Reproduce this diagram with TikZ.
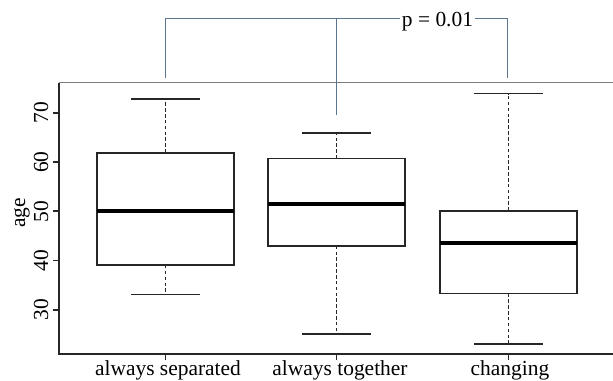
\documentclass[tikz,border=0pt]{standalone}
\usepackage{fontspec}
\setmainfont{Liberation Serif}
\usetikzlibrary{positioning,calc}
\definecolor{bracketblue}{RGB}{92,116,142}
\definecolor{framegray}{RGB}{125,125,125}
\tikzset{
	axline/.style={line width=1.5pt, color=black!85},
	boxline/.style={line width=1.5pt, color=black!85},
	medline/.style={line width=3pt, color=black},
	whisk/.style={line width=1.5pt, dash pattern=on 3pt off 2pt, color=black!85},
	capline/.style={line width=1.5pt, color=black!85},
	bracket/.style={line width=1pt, color=bracketblue},
	ticklabel/.style={rotate=90, anchor=base, inner sep=0pt},
	grouplabel/.style={anchor=base, inner sep=0pt},
	plabel/.style={anchor=base, inner xsep=1.6pt, inner ysep=0pt}
}
\begin{document}
\begin{tikzpicture}[x=0.03cm, y=0.14775cm, font=\fontsize{18.3}{21}\selectfont]
\useasboundingbox (0,15.6) rectangle (613,92.9);

% frame and axes
\draw[axline] (613,21.1) -- (59,21.1) -- (59,76.1);
\draw[line width=1.1pt, framegray] (59,76.1) -- (613,76.1);
\foreach \v in {30,40,...,70}{
	\draw[axline] (53,\v) -- (59,\v);
	\node[ticklabel] (T\v) at (48,\v) {\v};
}
\node[ticklabel] (age) at (25,49.7) {age};

% always separated
\draw[whisk] (165.5,61.9) -- (165.5,72.8);
\draw[whisk] (165.5,39.1) -- (165.5,33.1);
\draw[capline] (131,72.8) -- (200,72.8);
\draw[capline] (131,33.1) -- (200,33.1);
\draw[boxline, fill=white] (97,39.1) rectangle (234,61.9);
\draw[medline] (97,50.1) -- (234,50.1);

% always together
\draw[whisk] (336.5,60.7) -- (336.5,65.9);
\draw[whisk] (336.5,43.0) -- (336.5,25.1);
\draw[capline] (302,65.9) -- (371,65.9);
\draw[capline] (302,25.1) -- (371,25.1);
\draw[boxline, fill=white] (268,43.0) rectangle (405,60.7);
\draw[medline] (268,51.5) -- (405,51.5);

% changing
\draw[whisk] (508.5,50.1) -- (508.5,73.9);
\draw[whisk] (508.5,33.3) -- (508.5,23.1);
\draw[capline] (474,73.9) -- (543,73.9);
\draw[capline] (474,23.1) -- (543,23.1);
\draw[boxline, fill=white] (440,33.3) rectangle (577,50.1);
\draw[medline] (440,43.6) -- (577,43.6);

% group labels
\foreach \x in {165.5,336.5,508.5}
	\draw[axline] (\x,21.1) -- (\x,19.9);
\node[grouplabel] (Lsep) at (168,16.6) {always separated};
\node[grouplabel] (Ltog) at (340,16.6) {always together};
\node[grouplabel] (Lchg) at (510,16.6) {changing};

% p-value bracket
\coordinate (BL) at (165.5,77.1);
\coordinate (BLt) at (165.5,89.1);
\coordinate (BM) at (336.5,69.6);
\coordinate (BR) at (507.5,77.1);
\coordinate (BRt) at (507.5,89.1);
\node[plabel] (P) at (437.5,87.5) {p = 0.01};
\draw[bracket] (BL) -- (BLt) -- (P.west |- BLt);
\draw[bracket] (P.east |- BRt) -- (BRt) -- (BR);
\draw[bracket] (BM) -- (BM |- BLt);
\end{tikzpicture}
\end{document}
